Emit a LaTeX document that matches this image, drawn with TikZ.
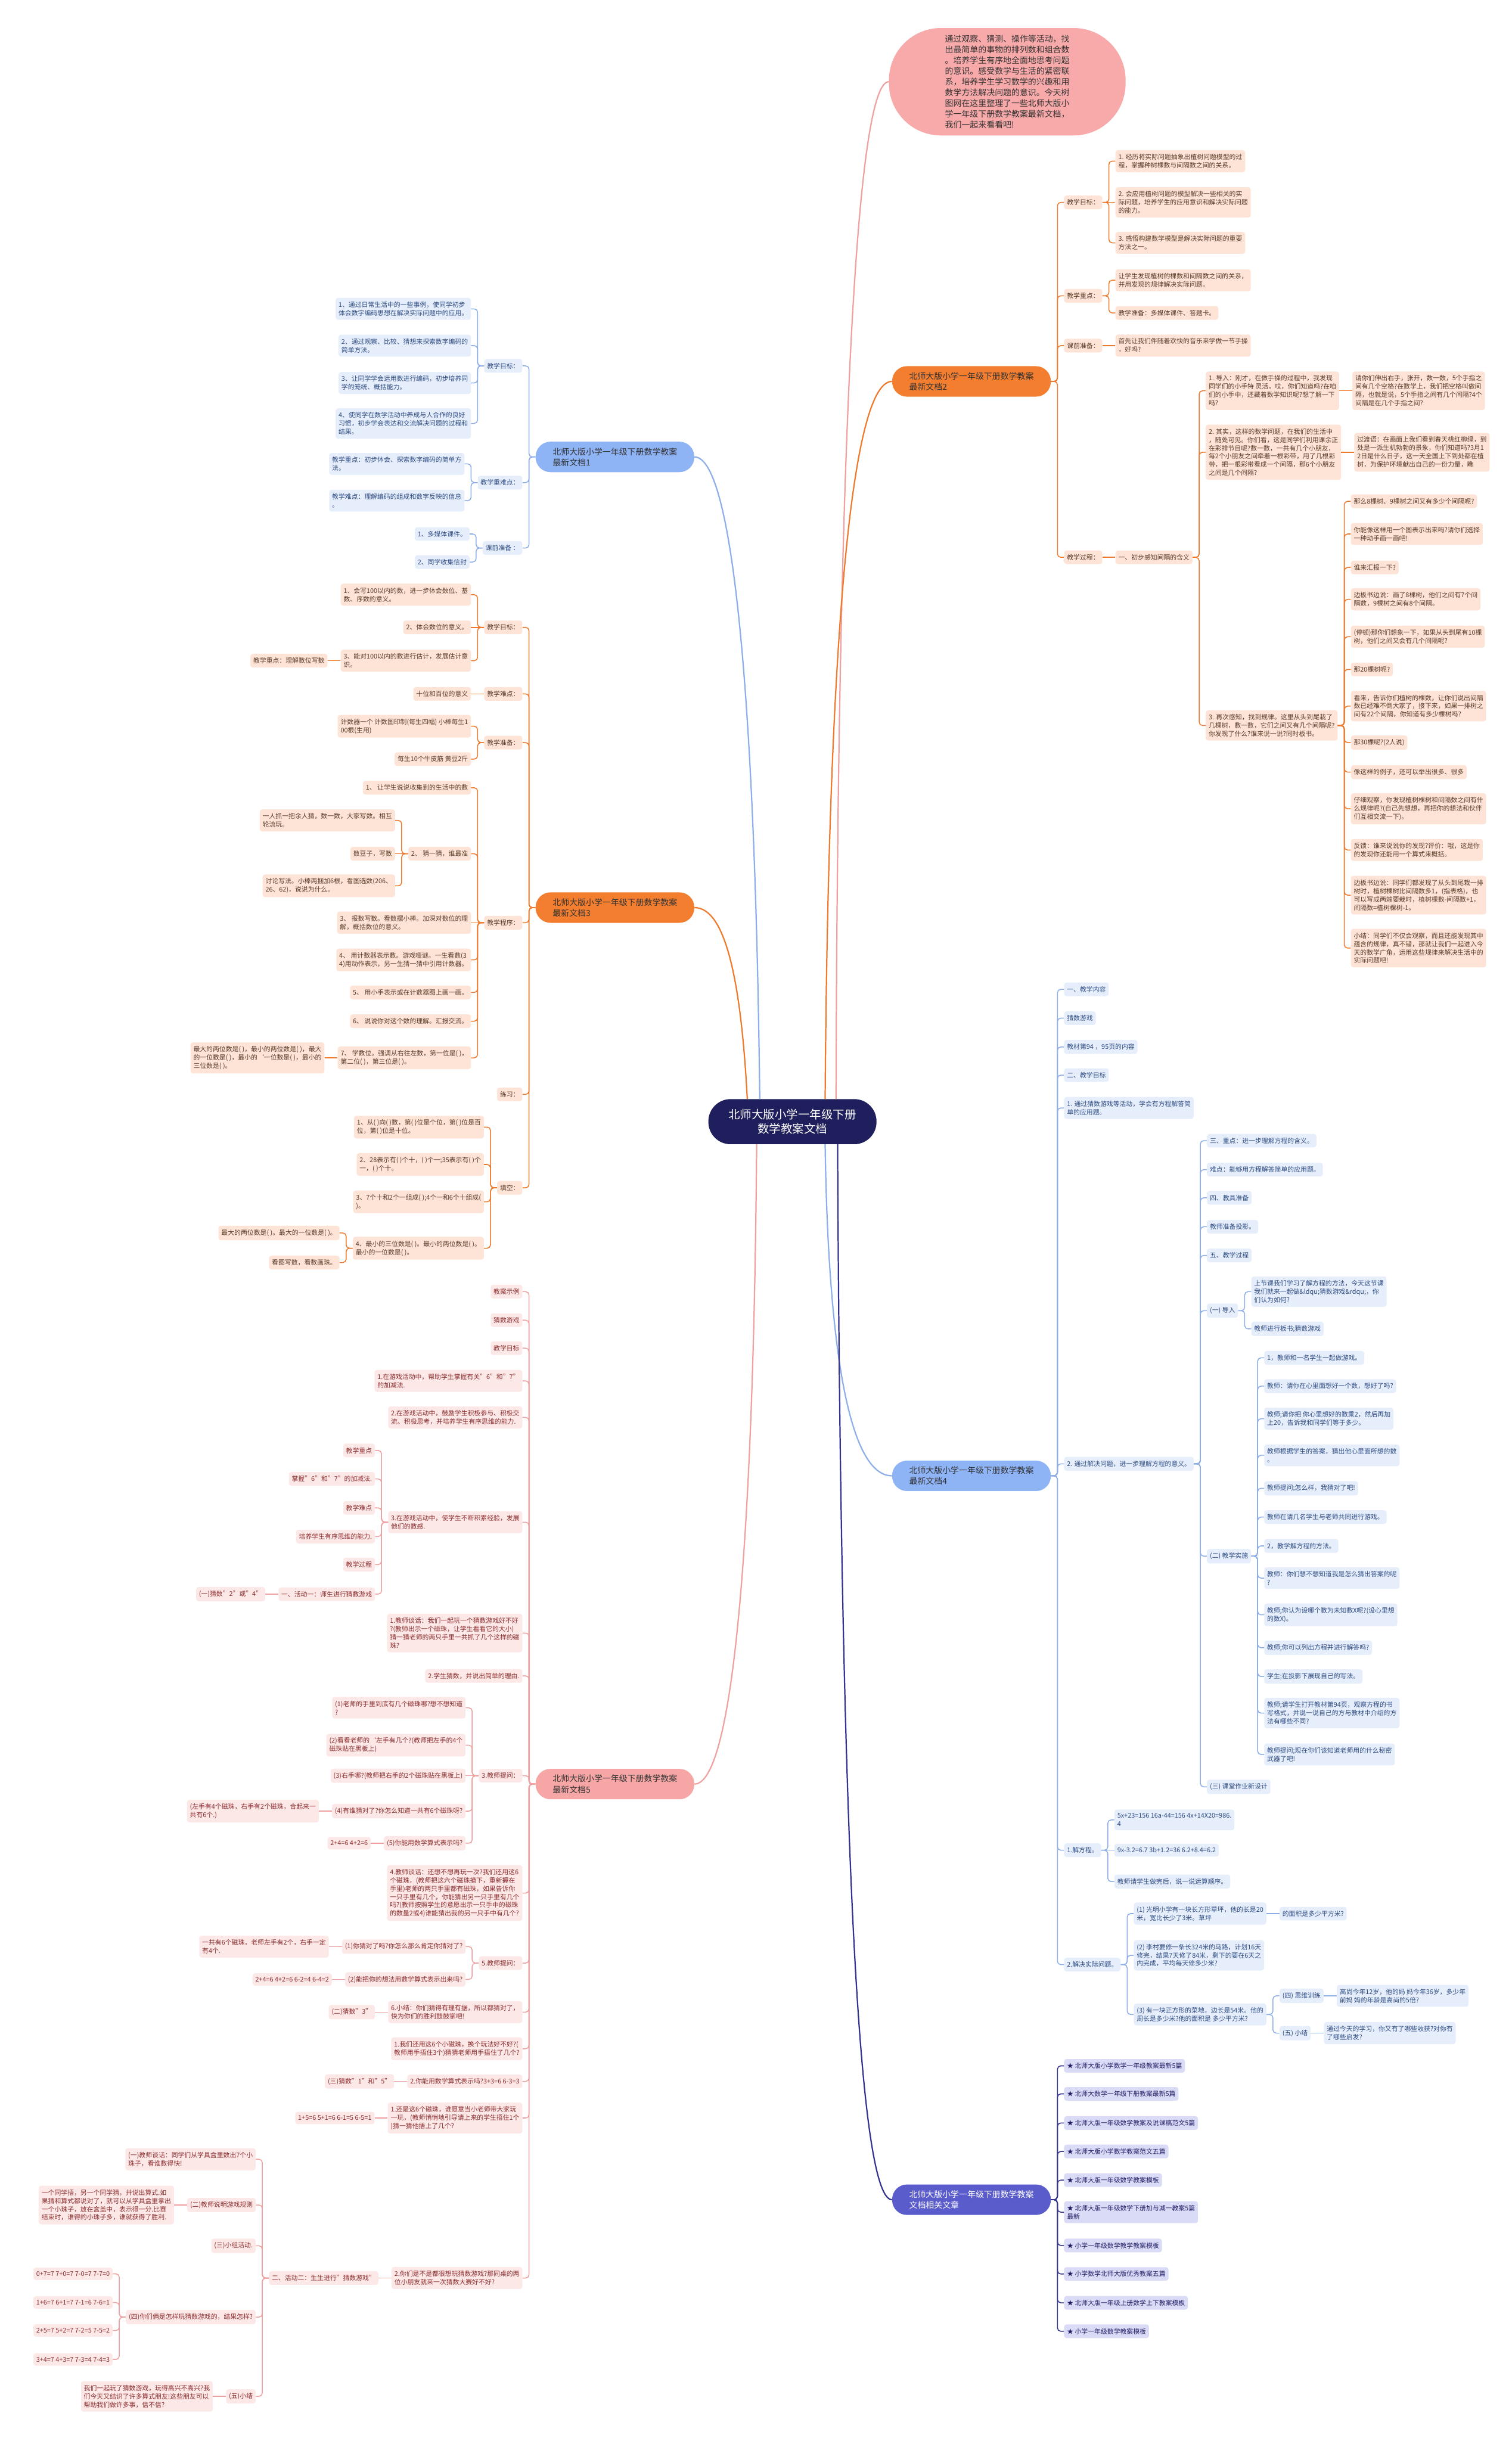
\documentclass[tikz,border=0pt]{standalone}
\usepackage{fontspec}
\setmainfont{Noto Sans CJK SC}
\usetikzlibrary{calc}
\definecolor{ofill}{HTML}{FDE4D6}
\definecolor{otext}{HTML}{5A3A28}
\definecolor{oline}{HTML}{EE7A2E}
\definecolor{omain}{HTML}{F47E30}
\definecolor{bfill}{HTML}{E6EEFC}
\definecolor{btext}{HTML}{2C4A80}
\definecolor{bline}{HTML}{8DAEE8}
\definecolor{bmain}{HTML}{8FB4F6}
\definecolor{pfill}{HTML}{FDE8E8}
\definecolor{ptext}{HTML}{8A2B2B}
\definecolor{pline}{HTML}{EFA0A0}
\definecolor{pmain}{HTML}{F7A6A6}
\definecolor{vfill}{HTML}{DADBF6}
\definecolor{vtext}{HTML}{1F1F66}
\definecolor{vline}{HTML}{34348F}
\definecolor{vmain}{HTML}{5A5CCB}
\definecolor{cmain}{HTML}{1E1F5C}
\definecolor{introfill}{HTML}{F8AAAA}
\definecolor{maintext}{HTML}{333333}
\newcommand\smallfs{\fontsize{7.8}{10}\selectfont}
\newcommand\chR[6]{%
  \path (#4.east) ++(8.3,0) coordinate (tmp);
  \node[#1,anchor=west] (#3) at (tmp |- 0,#5) {#6};
  \draw[#2] (#4.east) -- ($(#4.east)!.5!(#3.west|-#4.east)$) |- (#3.west);}
\newcommand\chL[6]{%
  \path (#4.west) ++(-8.3,0) coordinate (tmp);
  \node[#1,anchor=east] (#3) at (tmp |- 0,#5) {#6};
  \draw[#2] (#4.west) -- ($(#4.west)!.5!(#3.east|-#4.west)$) |- (#3.east);}
\newcommand\chRs[5]{%
  \node[#1,anchor=west] (#3) at ($(#4.east)+(8.3,0)$) {#5};
  \draw[#2] (#4.east) -- (#3.west);}
\newcommand\chLs[5]{%
  \node[#1,anchor=east] (#3) at ($(#4.west)+(-8.3,0)$) {#5};
  \draw[#2] (#4.west) -- (#3.east);}
\tikzset{
  box/.style={font=\smallfs, align=left, inner xsep=3.5pt, inner ysep=4.6pt, rounded corners=3pt},
  ob/.style={box, fill=ofill, text=otext},
  bb/.style={box, fill=bfill, text=btext},
  pb/.style={box, fill=pfill, text=ptext},
  vb/.style={box, fill=vfill, text=vtext},
  oc/.style={draw=oline, line width=1.1pt, rounded corners=4pt},
  bc/.style={draw=bline, line width=1.1pt, rounded corners=4pt},
  pc/.style={draw=pline, line width=1.1pt, rounded corners=4pt},
  vc/.style={draw=vline, line width=1.1pt, rounded corners=4pt},
  mainnode/.style={font=\fontsize{10}{13}\selectfont, align=left, rounded corners=6.3mm,
    minimum width=67.2mm, minimum height=12.9mm, inner sep=0pt},
  centernode/.style={font=\fontsize{14}{17.5}\selectfont, align=center, fill=cmain, text=white,
    rounded corners=9.4mm, minimum width=71.2mm, minimum height=19.1mm, inner sep=0pt},
  curve/.style={line width=1.6pt}
}
\begin{document}
\begin{tikzpicture}[x=0.6593mm,y=-0.6593mm]
\fill[white] (0,0) rectangle (971,1568);
\useasboundingbox (0,0) rectangle (971,1568);

% ---------- centre and intro ----------
\node[centernode] (c) at (509,720.5) {北师大版小学一年级下册\\数学教案文档};
\node[fill=introfill, rounded corners=22mm, minimum width=100.2mm, minimum height=45.5mm,
  font=\fontsize{10}{13}\selectfont, align=left, text=maintext] (intro) at (647,52.5)
  {通过观察、猜测、操作等活动，找\\出最简单的事物的排列数和组合数\\。培养学生有序地全面地思考问题\\的意识。感受数学与生活的紧密联\\系，培养学生学习数学的兴趣和用\\数学方法解决问题的意识。今天树\\图网在这里整理了一些北师大版小\\学一年级下册数学教案最新文档，\\我们一起来看看吧!};

% ---------- main nodes ----------
\node[mainnode, fill=omain, text=maintext] (d2) at (624,245) {北师大版小学一年级下册数学教案\\最新文档2};
\node[mainnode, fill=bmain, text=maintext] (d1) at (395,293.5) {北师大版小学一年级下册数学教案\\最新文档1};
\node[mainnode, fill=omain, text=maintext] (d3) at (395,583) {北师大版小学一年级下册数学教案\\最新文档3};
\node[mainnode, fill=bmain, text=maintext] (d4) at (624,948) {北师大版小学一年级下册数学教案\\最新文档4};
\node[mainnode, fill=pmain, text=maintext] (d5) at (395,1146) {北师大版小学一年级下册数学教案\\最新文档5};
\node[mainnode, fill=vmain, text=white] (dr) at (624,1413) {北师大版小学一年级下册数学教案\\文档相关文章};

\draw[curve, draw=pline] (537,706) .. controls (538,330) and (548,52) .. (intro.west);
\draw[curve, draw=oline] (530,706) .. controls (532,420) and (546,245) .. (d2.west);
\draw[curve, draw=bline] (488,706) .. controls (485,440) and (470,293.5) .. (d1.east);
\draw[curve, draw=oline] (480,706) .. controls (476,630) and (466,583) .. (d3.east);
\draw[curve, draw=bline] (530,735) .. controls (532,870) and (546,948) .. (d4.west);
\draw[curve, draw=pline] (486,735) .. controls (484,1000) and (470,1146) .. (d5.east);
\draw[curve, draw=vline] (538,735) .. controls (540,1150) and (550,1413) .. (dr.west);

% ---------- branch 2 ----------
\chR{ob}{oc}{b2g}{d2}{130}{教学目标：}
\chR{ob}{oc}{b2z}{d2}{190}{教学重点：}
\chR{ob}{oc}{b2k}{d2}{222}{课前准备：}
\chR{ob}{oc}{b2p}{d2}{358}{教学过程：}
\chR{ob}{oc}{b2g1}{b2g}{103.5}{1. 经历将实际问题抽象出植树问题模型的过\\程，掌握种树棵数与间隔数之间的关系。}
\chRs{ob}{oc}{b2g2}{b2g}{2. 会应用植树问题的模型解决一些相关的实\\际问题，培养学生的应用意识和解决实际问题\\的能力。}
\chR{ob}{oc}{b2g3}{b2g}{156}{3. 感悟构建数学模型是解决实际问题的重要\\方法之一。}
\chR{ob}{oc}{b2z1}{b2z}{180}{让学生发现植树的棵数和间隔数之间的关系，\\并用发现的规律解决实际问题。}
\chR{ob}{oc}{b2z2}{b2z}{201}{教学准备：多媒体课件、答题卡。}
\chRs{ob}{oc}{b2k1}{b2k}{首先让我们伴随着欢快的音乐来学做一节手操\\，好吗?}
\chRs{ob}{oc}{b2p1}{b2p}{一、初步感知间隔的含义}
\chR{ob}{oc}{b2a}{b2p1}{251}{1. 导入：刚才，在做手操的过程中，我发现\\同学们的小手特 灵活，哎，你们知道吗?在咱\\们的小手中，还藏着数学知识呢?想了解一下\\吗?}
\chR{ob}{oc}{b2b}{b2p1}{290.5}{2. 其实，这样的数学问题，在我们的生活中\\，随处可见。你们看，这是同学们利用课余正\\在彩排节目呢?数一数，一共有几个小朋友，\\每2个小朋友之间牵着一根彩带，用了几根彩\\带，把一根彩带看成一个间隔，那6个小朋友\\之间是几个间隔?}
\chR{ob}{oc}{b2c}{b2p1}{466}{3. 再次感知，找到规律。这里从头到尾栽了\\几棵树，数一数，它们之间又有几个间隔呢?\\你发现了什么?谁来说一说?同时板书。}
\chRs{ob}{oc}{b2a1}{b2a}{请你们伸出右手，张开，数一数，5个手指之\\间有几个空格?在数学上，我们把空格叫做间\\隔，也就是说，5个手指之间有几个间隔?4个\\间隔是在几个手指之间?}
\chRs{ob}{oc}{b2b1}{b2b}{过渡语：在画面上我们看到春天桃红柳绿，到\\处是一派生机勃勃的景象，你们知道吗?3月1\\2日是什么日子，这一天全国上下到处都在植\\树，为保护环境献出自己的一份力量，瞧}
\chR{ob}{oc}{b2c1}{b2c}{322}{那么8棵树、9棵树之间又有多少个间隔呢?}
\chR{ob}{oc}{b2c2}{b2c}{343}{你能像这样用一个图表示出来吗?请你们选择\\一种动手画一画吧!}
\chR{ob}{oc}{b2c3}{b2c}{364.5}{谁来汇报一下?}
\chR{ob}{oc}{b2c4}{b2c}{385}{边板书边说：画了8棵树，他们之间有7个间\\隔数，9棵树之间有8个间隔。}
\chR{ob}{oc}{b2c5}{b2c}{409}{(停顿)那你们想象一下，如果从头到尾有10棵\\树，他们之间又会有几个间隔呢?}
\chR{ob}{oc}{b2c6}{b2c}{430}{那20棵树呢?}
\chR{ob}{oc}{b2c7}{b2c}{453.6}{看来，告诉你们植树的棵数，让你们说出间隔\\数已经难不倒大家了，接下来，如果一排树之\\间有22个间隔，你知道有多少棵树吗?}
\chR{ob}{oc}{b2c8}{b2c}{477}{那30棵呢?(2人说)}
\chR{ob}{oc}{b2c9}{b2c}{496}{像这样的例子，还可以举出很多、很多}
\chR{ob}{oc}{b2c10}{b2c}{519.5}{仔细观察，你发现植树棵树和间隔数之间有什\\么规律呢?(自己先想想，再把你的想法和伙伴\\们互相交流一下)。}
\chR{ob}{oc}{b2c11}{b2c}{546}{反馈：谁来说说你的发现?评价：哦，这是你\\的发现你还能用一个算式来概括。}
\chR{ob}{oc}{b2c12}{b2c}{575}{边板书边说：同学们都发现了从头到尾栽一排\\树时，植树棵树比间隔数多1，(指表格)，也\\可以写成两端要栽时，植树棵数-间隔数+1，\\间隔数=植树棵树-1。}
\chR{ob}{oc}{b2c13}{b2c}{609}{小结：同学们不仅会观察，而且还能发现其中\\蕴含的规律，真不错，那就让我们一起进入今\\天的数学广角，运用这些规律来解决生活中的\\实际问题吧!}

% ---------- branch 1 ----------
\chL{bb}{bc}{b1g}{d1}{235}{教学目标：}
\chL{bb}{bc}{b1z}{d1}{310}{教学重难点：}
\chL{bb}{bc}{b1k}{d1}{352}{课前准备 ：}
\chL{bb}{bc}{b1g1}{b1g}{198.4}{1、通过日常生活中的一些事例，使同学初步\\体会数字编码思想在解决实际问题中的应用。}
\chL{bb}{bc}{b1g2}{b1g}{222}{2、通过观察、比较、猜想来探索数字编码的\\简单方法。}
\chL{bb}{bc}{b1g3}{b1g}{246}{3、让同学学会运用数进行编码，初步培养同\\学的笼统、概括能力。}
\chL{bb}{bc}{b1g4}{b1g}{272}{4、使同学在数学活动中养成与人合作的良好\\习惯，初步学会表达和交流解决问题的过程和\\结果。}
\chL{bb}{bc}{b1z1}{b1z}{298}{教学重点：初步体会、探索数字编码的简单方\\法。}
\chL{bb}{bc}{b1z2}{b1z}{321.6}{教学难点：理解编码的组成和数字反映的信息\\。}
\chL{bb}{bc}{b1k1}{b1k}{343}{1、多媒体课件。}
\chL{bb}{bc}{b1k2}{b1k}{361}{2、同学收集信封}

% ---------- branch 3 ----------
\chL{ob}{oc}{b3g}{d3}{403}{教学目标：}
\chL{ob}{oc}{b3n}{d3}{445.7}{教学难点：}
\chL{ob}{oc}{b3z}{d3}{477}{教学准备：}
\chL{ob}{oc}{b3c}{d3}{592.7}{教学程序：}
\chL{ob}{oc}{b3l}{d3}{703}{练习：}
\chL{ob}{oc}{b3t}{d3}{763}{填空：}
\chL{ob}{oc}{b3g1}{b3g}{382}{1、会写100以内的数，进一步体会数位、基\\数、序数的意义。}
\chLs{ob}{oc}{b3g2}{b3g}{2、体会数位的意义。}
\chL{ob}{oc}{b3g3}{b3g}{424.4}{3、能对100以内的数进行估计，发展估计意\\识。}
\chLs{ob}{oc}{b3g3a}{b3g3}{教学重点：理解数位写数}
\chLs{ob}{oc}{b3n1}{b3n}{十位和百位的意义}
\chL{ob}{oc}{b3z1}{b3z}{466.5}{计数器一个 计数图印制(每生四幅) 小棒每生1\\00根(生用)}
\chL{ob}{oc}{b3z2}{b3z}{487.6}{每生10个牛皮筋 黄豆2斤}
\chL{ob}{oc}{b3c1}{b3c}{506}{1、 让学生说说收集到的生活中的数}
\chL{ob}{oc}{b3c2}{b3c}{548.4}{2、 猜一猜，谁最准}
\chLs{ob}{oc}{b3c3}{b3c}{3、 报数写数。看数摆小棒。加深对数位的理\\解，概括数位的意义。}
\chL{ob}{oc}{b3c4}{b3c}{616.6}{4、 用计数器表示数。游戏哑谜。一生看数(3\\4)用动作表示，另一生猜一猜中引用计数器。}
\chL{ob}{oc}{b3c5}{b3c}{637.5}{5、 用小手表示或在计数器图上画一画。}
\chL{ob}{oc}{b3c6}{b3c}{656}{6、 说说你对这个数的理解。汇报交流。}
\chL{ob}{oc}{b3c7}{b3c}{679.5}{7、 学数位。强调从右往左数，第一位是( )，\\第二位( )，第三位是( )。}
\chL{ob}{oc}{b3c2a}{b3c2}{527}{一人抓一把余人猜，数一数，大家写数。相互\\轮流玩。}
\chLs{ob}{oc}{b3c2b}{b3c2}{数豆子，写数}
\chL{ob}{oc}{b3c2c}{b3c2}{569}{讨论写法。小棒两捆加6根，看图选数(206、\\26、62)，说说为什么。}
\chLs{ob}{oc}{b3c7a}{b3c7}{最大的两位数是( )，最小的两位数是( )，最大\\的一位数是( )，最小的{\symbol{96}}一位数是( )，最小的\\三位数是( )。}
\chL{ob}{oc}{b3t1}{b3t}{724}{1、从( )向( )数，第( )位是个位，第( )位是百\\位，第( )位是十位。}
\chL{ob}{oc}{b3t2}{b3t}{748}{2、28表示有( )个十，( )个一;35表示有( )个\\一，( )个十。}
\chL{ob}{oc}{b3t3}{b3t}{772}{3、7个十和2个一组成( );4个一和6个十组成(\\)。}
\chL{ob}{oc}{b3t4}{b3t}{801.8}{4、最小的三位数是( )。最小的两位数是( )。\\最小的一位数是( )。}
\chL{ob}{oc}{b3t4a}{b3t4}{792}{最大的两位数是( )。最大的一位数是( )。}
\chL{ob}{oc}{b3t4b}{b3t4}{811}{看图写数，看数画珠。}

% ---------- branch 5 ----------
\chL{pb}{pc}{p1}{d5}{829.7}{教案示例}
\chL{pb}{pc}{p2}{d5}{848}{猜数游戏}
\chL{pb}{pc}{p3}{d5}{866}{教学目标}
\chL{pb}{pc}{p4}{d5}{887}{1.在游戏活动中，帮助学生掌握有关"6"和"7"\\的加减法.}
\chL{pb}{pc}{p5}{d5}{910.5}{2.在游戏活动中，鼓励学生积极参与、积极交\\流、积极思考，并培养学生有序思维的能力.}
\chL{pb}{pc}{p6}{d5}{977.8}{3.在游戏活动中，使学生不断积累经验，发展\\他们的数感.}
\chL{pb}{pc}{p7}{d5}{1049}{1.教师谈话：我们一起玩一个猜数游戏好不好\\?(教师出示一个磁珠，让学生看看它的大小)\\猜一猜老师的两只手里一共抓了几个这样的磁\\珠?}
\chL{pb}{pc}{p8}{d5}{1076.5}{2.学生猜数，并说出简单的理由.}
\chL{pb}{pc}{p9}{d5}{1140.6}{3.教师提问：}
\chL{pb}{pc}{p10}{d5}{1216}{4.教师谈话：还想不想再玩一次?我们还用这6\\个磁珠，(教师把这六个磁珠摘下，重新握在\\手里)老师的两只手里都有磁珠，如果告诉你\\一只手里有几个，你能猜出另一只手里有几个\\吗?(教师按照学生的意愿出示一只手中的磁珠\\的数量2或4)谁能猜出我的另一只手中有几个?}
\chL{pb}{pc}{p11}{d5}{1261}{5.教师提问：}
\chL{pb}{pc}{p12}{d5}{1292.5}{6.小结：你们猜得有理有据，所以都猜对了，\\快为你们的胜利鼓鼓掌吧!}
\chL{pb}{pc}{p13}{d5}{1316}{1.我们还用这6个小磁珠，换个玩法好不好?(\\教师用手捂住3个)猜猜老师用手捂住了几个?}
\chL{pb}{pc}{p14}{d5}{1337}{2.你能用数学算式表示吗?3+3=6 6-3=3}
\chL{pb}{pc}{p15}{d5}{1360.5}{1.还是这6个磁珠，谁愿意当小老师带大家玩\\一玩，(教师悄悄地引导请上来的学生捂住1个\\)猜一猜他捂上了几个?}
\chL{pb}{pc}{p16}{d5}{1463.3}{2.你们是不是都很想玩猜数游戏?那同桌的两\\位小朋友就来一次猜数大赛好不好?}
\chL{pb}{pc}{p6a}{p6}{931.7}{教学重点}
\chL{pb}{pc}{p6b}{p6}{950}{掌握"6"和"7"的加减法.}
\chL{pb}{pc}{p6c}{p6}{968.6}{教学难点}
\chL{pb}{pc}{p6d}{p6}{987}{培养学生有序思维的能力.}
\chL{pb}{pc}{p6e}{p6}{1005}{教学过程}
\chL{pb}{pc}{p6f}{p6}{1024}{一、活动一：师生进行猜数游戏}
\chLs{pb}{pc}{p6f1}{p6f}{(一)猜数"2"或"4"}
\chL{pb}{pc}{p9a}{p9}{1097}{(1)老师的手里到底有几个磁珠哪?想不想知道\\?}
\chL{pb}{pc}{p9b}{p9}{1121}{(2)看看老师的{\symbol{96}}左手有几个?(教师把左手的4个\\磁珠贴在黑板上)}
\chLs{pb}{pc}{p9c}{p9}{(3)右手哪?(教师把右手的2个磁珠贴在黑板上)}
\chL{pb}{pc}{p9d}{p9}{1163.4}{(4)有谁猜对了?你怎么知道一共有6个磁珠呀?}
\chL{pb}{pc}{p9e}{p9}{1184}{(5)你能用数学算式表示吗?}
\chLs{pb}{pc}{p9d1}{p9d}{(左手有4个磁珠，右手有2个磁珠，合起来一\\共有6个.)}
\chLs{pb}{pc}{p9e1}{p9e}{2+4=6 4+2=6}
\chL{pb}{pc}{p11a}{p11}{1250.4}{(1)你猜对了吗?你怎么那么肯定你猜对了?}
\chL{pb}{pc}{p11b}{p11}{1271.5}{(2)能把你的想法用数学算式表示出来吗?}
\chLs{pb}{pc}{p11a1}{p11a}{一共有6个磁珠，老师左手有2个，右手一定\\有4个.}
\chLs{pb}{pc}{p11b1}{p11b}{2+4=6 4+2=6 6-2=4 6-4=2}
\chLs{pb}{pc}{p12a}{p12}{(二)猜数"3"}
\chLs{pb}{pc}{p14a}{p14}{(三)猜数"1"和"5"}
\chLs{pb}{pc}{p15a}{p15}{1+5=6 5+1=6 6-1=5 6-5=1}
\chLs{pb}{pc}{q}{p16}{二、活动二：生生进行"猜数游戏"}
\chL{pb}{pc}{q1}{q}{1387}{(一)教师谈话：同学们从学具盒里数出7个小\\珠子，看谁数得快!}
\chL{pb}{pc}{q2}{q}{1416.4}{(二)教师说明游戏规则}
\chL{pb}{pc}{q3}{q}{1442.6}{(三)小组活动.}
\chL{pb}{pc}{q4}{q}{1488.4}{(四)你们俩是怎样玩猜数游戏的，结果怎样?}
\chL{pb}{pc}{q5}{q}{1539.3}{(五)小结}
\chLs{pb}{pc}{q2a}{q2}{一个同学捂，另一个同学猜，并说出算式.如\\果猜和算式都说对了，就可以从学具盒里拿出\\一个小珠子，放在盒盖中，表示得一分.比赛\\结束时，谁得的小珠子多，谁就获得了胜利.}
\chL{pb}{pc}{q4a}{q4}{1460.6}{0+7=7 7+0=7 7-0=7 7-7=0}
\chL{pb}{pc}{q4b}{q4}{1479}{1+6=7 6+1=7 7-1=6 7-6=1}
\chL{pb}{pc}{q4c}{q4}{1497}{2+5=7 5+2=7 7-2=5 7-5=2}
\chL{pb}{pc}{q4d}{q4}{1515.6}{3+4=7 4+3=7 7-3=4 7-4=3}
\chLs{pb}{pc}{q5a}{q5}{我们一起玩了猜数游戏，玩得高兴不高兴?我\\们今天又结识了许多算式朋友!这些朋友可以\\帮助我们做许多事，信不信?}

% ---------- branch 4 ----------
\chR{bb}{bc}{c1}{d4}{635.5}{一、教学内容}
\chR{bb}{bc}{c2}{d4}{654}{猜数游戏}
\chR{bb}{bc}{c3}{d4}{672.5}{教材第94 ，95页的内容}
\chR{bb}{bc}{c4}{d4}{690.6}{二、教学目标}
\chR{bb}{bc}{c5}{d4}{711.7}{1. 通过猜数游戏等活动，学会有方程解答简\\单的应用题。}
\chR{bb}{bc}{c6}{d4}{940.3}{2. 通过解决问题，进一步理解方程的意义。}
\chR{bb}{bc}{c7}{d4}{1188.5}{1.解方程。}
\chR{bb}{bc}{c8}{d4}{1262}{2.解决实际问题。}
\chR{bb}{bc}{c61}{c6}{732.7}{三、重点：进一步理解方程的含义。}
\chR{bb}{bc}{c62}{c6}{751.3}{难点：能够用方程解答简单的应用题。}
\chR{bb}{bc}{c63}{c6}{769.4}{四、教具准备}
\chR{bb}{bc}{c64}{c6}{788}{教师准备投影。}
\chR{bb}{bc}{c65}{c6}{806.4}{五、教学过程}
\chR{bb}{bc}{c66}{c6}{841.9}{(一) 导入}
\chR{bb}{bc}{c67}{c6}{999.6}{(二) 教学实施}
\chR{bb}{bc}{c68}{c6}{1147.8}{(三) 课堂作业新设计}
\chR{bb}{bc}{c66a}{c66}{829.7}{上节课我们学习了解方程的方法，今天这节课\\我们就来一起做\&ldqu;猜数游戏\&rdqu;，你\\们认为如何?}
\chR{bb}{bc}{c66b}{c66}{853.6}{教师进行板书;猜数游戏}
\chR{bb}{bc}{c67a}{c67}{872.2}{1，教师和一名学生一起做游戏。}
\chR{bb}{bc}{c67b}{c67}{890.4}{教师：请你在心里面想好一个数，想好了吗?}
\chR{bb}{bc}{c67c}{c67}{911.3}{教师;请你把 你心里想好的数乘2，然后再加\\上20，告诉我和同学们等于多少。}
\chR{bb}{bc}{c67d}{c67}{934.8}{教师根据学生的答案，猜出他心里面所想的数\\。}
\chR{bb}{bc}{c67e}{c67}{956}{教师提问;怎么样，我猜对了吧!}
\chR{bb}{bc}{c67f}{c67}{974.5}{教师在请几名学生与老师共同进行游戏。}
\chR{bb}{bc}{c67g}{c67}{993}{2，教学解方程的方法。}
\chR{bb}{bc}{c67h}{c67}{1013.7}{教师：你们想不想知道我是怎么猜出答案的呢\\?}
\chR{bb}{bc}{c67i}{c67}{1037.3}{教师;你认为设哪个数为未知数X呢?(设心里想\\的数X)。}
\chR{bb}{bc}{c67j}{c67}{1058.4}{教师;你可以列出方程并进行解答吗?}
\chR{bb}{bc}{c67k}{c67}{1076.9}{学生;在投影下展现自己的写法。}
\chR{bb}{bc}{c67l}{c67}{1100.4}{教师;请学生打开教材第94页，观察方程的书\\写格式，并说一说自己的方与教材中介绍的方\\法有哪些不同?}
\chR{bb}{bc}{c67m}{c67}{1127}{教师提问;现在你们该知道老师用的什么秘密\\武器了吧!}
\chR{bb}{bc}{c71}{c7}{1169}{5x+23=156 16a-44=156 4x+14X20=986.\\4}
\chRs{bb}{bc}{c72}{c7}{9x-3.2=6.7 3b+1.2=36 6.2+8.4=6.2}
\chR{bb}{bc}{c73}{c7}{1208.6}{教师请学生做完后，说一说运算顺序。}
\chR{bb}{bc}{c81}{c8}{1229.2}{(1) 光明小学有一块长方形草坪，他的长是20\\米，宽比长少了3米。草坪}
\chR{bb}{bc}{c82}{c8}{1256}{(2) 李村要修一条长324米的马路，计划16天\\修完，结果7天修了84米，剩下的要在6天之\\内完成，平均每天修多少米?}
\chR{bb}{bc}{c83}{c8}{1294}{(3) 有一块正方形的菜地，边长是54米。他的\\周长是多少米?他的面积是 多少平方米?}
\chRs{bb}{bc}{c81a}{c81}{的面积是多少平方米?}
\chR{bb}{bc}{c83a}{c83}{1282}{(四) 思维训练}
\chR{bb}{bc}{c83b}{c83}{1306}{(五) 小结}
\chRs{bb}{bc}{c83a1}{c83a}{高尚今年12岁，他的妈 妈今年36岁，多少年\\前妈 妈的年龄是高尚的5倍?}
\chRs{bb}{bc}{c83b1}{c83b}{通过今天的学习，你又有了哪些收获?对你有\\了哪些启发?}

% ---------- related ----------
\chR{vb}{vc}{r1}{dr}{1327}{★ 北师大版小学数学一年级教案最新5篇}
\chR{vb}{vc}{r2}{dr}{1345}{★ 北师大数学一年级下册教案最新5篇}
\chR{vb}{vc}{r3}{dr}{1363.7}{★ 北师大版一年级数学教案及说课稿范文5篇}
\chR{vb}{vc}{r4}{dr}{1382}{★ 北师大版小学数学教案范文五篇}
\chR{vb}{vc}{r5}{dr}{1400.4}{★ 北师大版一年级数学教案模板}
\chR{vb}{vc}{r6}{dr}{1421}{★ 北师大版一年级数学下册加与减一教案5篇\\最新}
\chR{vb}{vc}{r7}{dr}{1442.4}{★ 小学一年级数学教学教案模板}
\chR{vb}{vc}{r8}{dr}{1460.7}{★ 小学数学北师大版优秀教案五篇}
\chR{vb}{vc}{r9}{dr}{1479.2}{★ 北师大版一年级上册数学上下教案模板}
\chR{vb}{vc}{r10}{dr}{1497.5}{★ 小学一年级数学教案模板}
\end{tikzpicture}
\end{document}
